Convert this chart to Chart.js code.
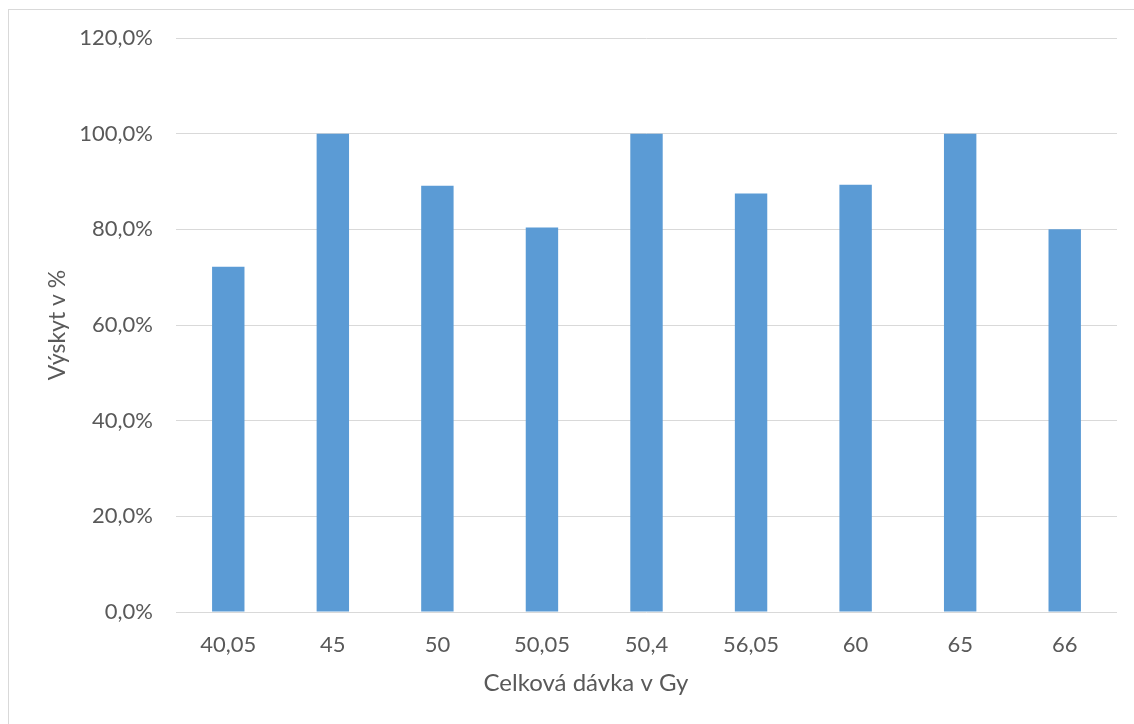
<!DOCTYPE html>
<html>
<head>
<meta charset="utf-8">
<script src="https://cdn.jsdelivr.net/npm/chart.js@4/dist/chart.umd.min.js"></script>
<style>
  html, body { margin: 0; padding: 0; background: #ffffff; overflow: hidden; }
  #wrap { position: relative; width: 1134px; height: 724px; }
  #frame { position: absolute; left: 8px; top: 9px; width: 1300px; height: 900px;
           border: 1px solid #d9d9d9; box-sizing: border-box; }
  canvas { position: absolute; left: 0; top: 0; }
</style>
</head>
<body>
<div id="wrap">
  <div id="frame"></div>
  <canvas id="chart" width="1134" height="724"></canvas>
</div>
<script>
// Celková dávka (Gy) a výskyt v procentech
const categories = ['40,05', '45', '50', '50,05', '50,4', '56,05', '60', '65', '66'];
const occurrence = [72.2, 100, 89.1, 80.4, 100, 87.5, 89.3, 100, 80.0];
const yTicks = [0, 20, 40, 60, 80, 100, 120];

const yTitle = 'Výskyt v %';
const xTitle = 'Celková dávka v Gy';

const FONT = 'Lato, "Open Sans", sans-serif';
const TEXT = '#595959';

// horizontal axis title, centred under the whole chart box
const xTitlePlugin = {
  id: 'xTitlePlugin',
  afterDraw(chart) {
    const ctx = chart.ctx;
    ctx.save();
    ctx.font = '24px ' + FONT;
    ctx.fillStyle = TEXT;
    ctx.textAlign = 'center';
    ctx.textBaseline = 'middle';
    ctx.fillText(xTitle, 586, 683);
    ctx.restore();
  }
};

new Chart(document.getElementById('chart'), {
  type: 'bar',
  data: {
    labels: categories,
    datasets: [{
      data: occurrence,
      backgroundColor: '#5b9bd5',
      borderWidth: 0,
      categoryPercentage: 1,
      barPercentage: 0.31
    }]
  },
  options: {
    responsive: false,
    animation: false,
    devicePixelRatio: 1,
    layout: { padding: { left: 0, right: 17, top: 38, bottom: 0 } },
    plugins: {
      legend: { display: false },
      tooltip: { enabled: false }
    },
    scales: {
      x: {
        grid: { display: false, drawTicks: false },
        border: { display: false },
        ticks: {
          color: TEXT,
          font: { family: FONT, size: 22 },
          padding: 20,
          maxRotation: 0
        },
        afterFit(scale) { scale.height = 112; }
      },
      y: {
        min: 0,
        max: 120,
        afterBuildTicks(scale) { scale.ticks = yTicks.map(v => ({ value: v })); },
        grid: { color: '#d9d9d9', lineWidth: 1, drawTicks: false },
        border: { display: false },
        ticks: {
          color: TEXT,
          font: { family: FONT, size: 22 },
          padding: 23,
          callback: v => v.toFixed(1).replace('.', ',') + '%'
        },
        title: {
          display: true,
          text: yTitle,
          color: TEXT,
          font: { family: FONT, size: 23 },
          padding: { top: 44, bottom: 0 }
        },
        afterFit(scale) { scale.width = 176; }
      }
    }
  },
  plugins: [xTitlePlugin]
});
</script>
</body>
</html>
